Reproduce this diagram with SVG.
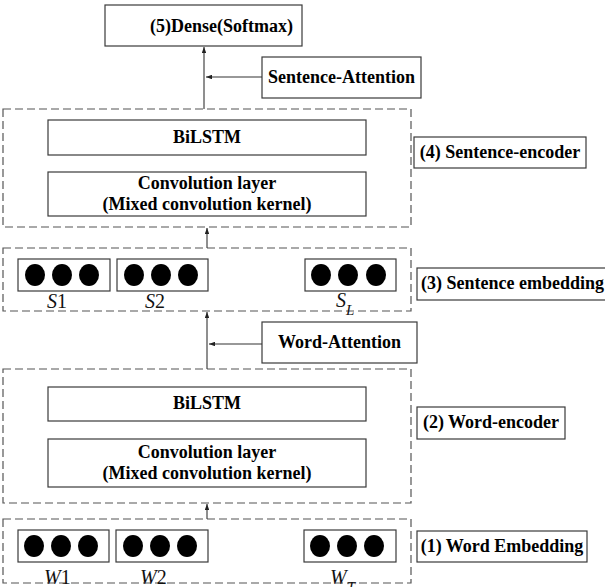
<svg xmlns="http://www.w3.org/2000/svg" width="605" height="587" viewBox="0 0 605 587">
<defs>
<marker id="ah" viewBox="0 0 8 6" refX="8" refY="3" markerWidth="6" markerHeight="4.5" markerUnits="userSpaceOnUse" orient="auto">
<path d="M0,0 L8,3 L0,6 Z" fill="#222"/>
</marker>
<style>
.box{fill:#fff;stroke:#3a3a3a;stroke-width:1.2}
.dash{fill:none;stroke:#555;stroke-width:1.2;stroke-dasharray:8 4}
.t{font-family:"Liberation Serif","Times New Roman",serif;font-weight:bold;font-size:18px;fill:#000}
.m{font-family:"Liberation Serif","Times New Roman",serif;font-size:20px;fill:#111}
.dot{fill:#000}
.conn{stroke:#333;stroke-width:1.1;fill:none;marker-end:url(#ah)}
</style>
</defs>
<rect width="605" height="587" fill="#fff"/>

<g id="dense">
<rect class="box" x="105" y="5" width="197" height="41"/>
<text class="t" x="150" y="32">(5)Dense(Softmax)</text>
</g>

<g id="sentence-attention">
<rect class="box" x="262" y="57" width="159" height="41"/>
<text class="t" x="341.5" y="83" text-anchor="middle">Sentence-Attention</text>
</g>

<g id="sentence-encoder">
<rect class="dash" x="3" y="109" width="408" height="118"/>
<g id="s-bilstm">
<rect class="box" x="48" y="120" width="318" height="35"/>
<text class="t" x="207" y="143" text-anchor="middle">BiLSTM</text>
</g>
<g id="s-conv">
<rect class="box" x="48" y="172" width="318" height="44"/>
<text class="t" x="207" y="189" text-anchor="middle">Convolution layer</text>
<text class="t" x="207" y="210" text-anchor="middle">(Mixed convolution kernel)</text>
</g>
</g>
<g id="label4">
<rect class="box" x="414" y="137" width="172" height="31"/>
<text class="t" x="500" y="158" text-anchor="middle">(4) Sentence-encoder</text>
</g>

<g id="sentence-embedding">
<rect class="dash" x="3" y="248" width="408" height="63"/>
<g id="s1">
<rect class="box" x="18" y="259" width="92" height="32"/>
<ellipse class="dot" cx="35" cy="275" rx="10" ry="11"/>
<ellipse class="dot" cx="62" cy="275" rx="10" ry="11"/>
<ellipse class="dot" cx="89" cy="275" rx="10" ry="11"/>
<text class="m" x="47" y="308"><tspan font-style="italic">S</tspan>1</text>
</g>
<g id="s2">
<rect class="box" x="117" y="259" width="91" height="32"/>
<ellipse class="dot" cx="134" cy="275" rx="10" ry="11"/>
<ellipse class="dot" cx="161" cy="275" rx="10" ry="11"/>
<ellipse class="dot" cx="188" cy="275" rx="10" ry="11"/>
<text class="m" x="145" y="308"><tspan font-style="italic">S</tspan>2</text>
</g>
<g id="sL">
<rect class="box" x="305" y="259" width="91" height="32"/>
<ellipse class="dot" cx="321" cy="275" rx="10" ry="11"/>
<ellipse class="dot" cx="348" cy="275" rx="10" ry="11"/>
<ellipse class="dot" cx="376" cy="275" rx="10" ry="11"/>
<text class="m" x="336" y="307" font-style="italic">S<tspan font-size="15" dy="8" dx="0">L</tspan></text>
</g>
</g>
<g id="label3">
<rect class="box" x="417" y="268" width="190" height="32"/>
<text class="t" x="421" y="289">(3) Sentence embedding</text>
</g>

<g id="word-attention">
<rect class="box" x="262" y="322" width="155" height="41"/>
<text class="t" x="339.5" y="348" text-anchor="middle">Word-Attention</text>
</g>

<g id="word-encoder">
<rect class="dash" x="3" y="369" width="408" height="134"/>
<g id="w-bilstm">
<rect class="box" x="48" y="387" width="318" height="34"/>
<text class="t" x="207" y="409" text-anchor="middle">BiLSTM</text>
</g>
<g id="w-conv">
<rect class="box" x="48" y="439" width="318" height="48"/>
<text class="t" x="207" y="458" text-anchor="middle">Convolution layer</text>
<text class="t" x="207" y="479" text-anchor="middle">(Mixed convolution kernel)</text>
</g>
</g>
<g id="label2">
<rect class="box" x="417" y="407" width="148" height="32"/>
<text class="t" x="491" y="428" text-anchor="middle">(2) Word-encoder</text>
</g>

<g id="word-embedding">
<rect class="dash" x="3" y="519" width="408" height="64"/>
<g id="w1">
<rect class="box" x="18" y="530" width="91" height="32"/>
<ellipse class="dot" cx="34" cy="546" rx="10" ry="11"/>
<ellipse class="dot" cx="61" cy="546" rx="10" ry="11"/>
<ellipse class="dot" cx="88" cy="546" rx="10" ry="11"/>
<text class="m" x="44" y="584"><tspan font-style="italic">W</tspan>1</text>
</g>
<g id="w2">
<rect class="box" x="116" y="530" width="92" height="32"/>
<ellipse class="dot" cx="133" cy="546" rx="10" ry="11"/>
<ellipse class="dot" cx="160" cy="546" rx="10" ry="11"/>
<ellipse class="dot" cx="187" cy="546" rx="10" ry="11"/>
<text class="m" x="140" y="584"><tspan font-style="italic">W</tspan>2</text>
</g>
<g id="wT">
<rect class="box" x="304" y="530" width="92" height="32"/>
<ellipse class="dot" cx="320" cy="546" rx="10" ry="11"/>
<ellipse class="dot" cx="347" cy="546" rx="10" ry="11"/>
<ellipse class="dot" cx="374" cy="546" rx="10" ry="11"/>
<text class="m" x="330" y="584" font-style="italic">W<tspan font-size="15" dy="8">T</tspan></text>
</g>
</g>
<g id="label1">
<rect class="box" x="417" y="531" width="170" height="31"/>
<text class="t" x="502" y="552" text-anchor="middle">(1) Word Embedding</text>
</g>

<g id="connectors">
<line class="conn" x1="204" y1="109" x2="204" y2="47"/>
<line class="conn" x1="262" y1="77" x2="206" y2="77"/>
<line class="conn" x1="207" y1="248" x2="207" y2="228"/>
<line class="conn" x1="207" y1="369" x2="207" y2="312"/>
<line class="conn" x1="262" y1="344" x2="209" y2="344"/>
<line class="conn" x1="207" y1="519" x2="207" y2="504"/>
</g>
</svg>
